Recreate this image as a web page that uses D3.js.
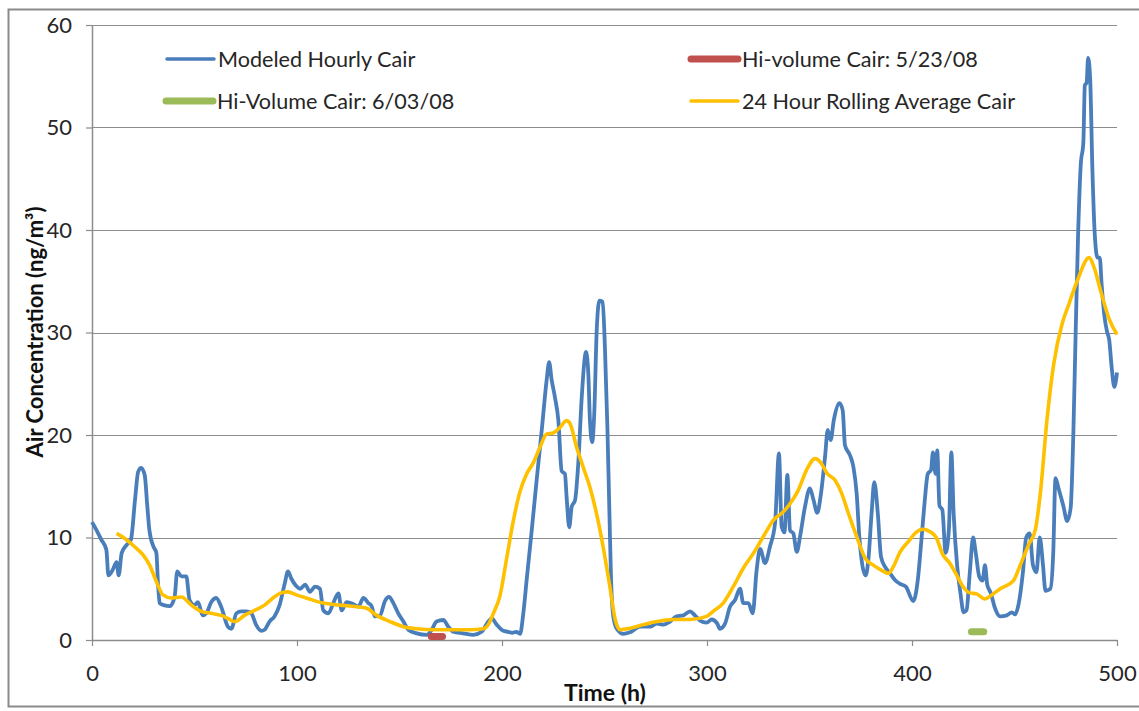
<!DOCTYPE html>
<html>
<head>
<meta charset="utf-8">
<script src="https://cdn.jsdelivr.net/npm/d3@7"></script>
<style>
  html, body { margin: 0; padding: 0; background: #ffffff; }
  svg { display: block; }
  text { font-family: Lato, "Open Sans", "DejaVu Sans", sans-serif; }
</style>
</head>
<body>
<svg id="chart" width="1139" height="711"></svg>
<script>
// ---- data (hour, ng/m3) ----
const xTicks = [0, 100, 200, 300, 400, 500];
const yTicks = [0, 10, 20, 30, 40, 50, 60];
const seriesNames = ["Modeled Hourly Cair", "Hi-volume Cair: 5/23/08", "Hi-Volume Cair: 6/03/08", "24 Hour Rolling Average Cair"];
const xTitle = "Time (h)";
const yTitle = "Air Concentration (ng/m³)";

const modeledHourly = [
  [0,11.5],[2,10.8],[4.5,9.8],[7,8.8],[8,6.3],[10,6.8],[12,7.6],[13,6.3],[14.5,8.5],[17,9.3],[19,9.8],
  [21,13.7],[22.5,16.4],[24,16.8],[25.7,16.1],[27,13],[28,10.7],[30,9.1],[31.4,8.5],[32.2,5.5],[33,3.6],
  [35,3.4],[38,3.3],[40.3,4.2],[41.6,6.7],[43.6,6.2],[46,6.2],[47.6,3.9],[50,3.4],[51.7,3.7],[54,2.4],
  [55.8,2.6],[58.2,3.7],[60.6,4.1],[63,3.25],[66.3,1.3],[68,1.1],[70.4,2.6],[72.8,2.8],[75.2,2.8],
  [77.7,2.6],[80,1.5],[82.6,0.9],[84.2,1.0],[86.6,1.8],[89,2.3],[91.5,3.4],[94,5.5],[95.6,6.7],[97.2,6.0],
  [99.5,5.3],[101.5,5.0],[104,5.4],[106.3,4.7],[108.8,5.2],[111.2,5.0],[112.8,2.9],[115.3,2.6],[117.7,3.6],
  [120.2,4.55],[121.8,2.9],[124.2,3.7],[127.5,3.5],[129.9,3.25],[132.4,4.1],[134.8,3.6],[136.4,3.3],
  [138,2.3],[140.5,2.4],[142.9,3.8],[144.9,4.2],[147,3.6],[149.4,2.6],[151.9,1.8],[154.3,1.0],[158.4,0.65],
  [163.3,0.5],[165.7,1.0],[168.1,1.8],[171.4,1.95],[173.8,1.3],[176.3,0.8],[181,0.65],[186,0.5],[190.1,0.8],
  [193.3,1.8],[195,2.1],[197.4,1.5],[200.6,0.9],[203,0.8],[205,0.7],[207,0.8],[208.8,0.6],[210.4,2.6],
  [212,5.8],[214.5,10.7],[216.9,15.6],[219.4,20.5],[221.8,25.4],[223,27.1],[224.2,25.4],[225.8,23.7],
  [227.5,21.4],[229.1,16.5],[230.7,16.2],[231.5,14],[232.8,11.0],[234,13],[235.6,13.6],[237.2,17.2],
  [238.9,23.7],[241,28.1],[242.1,26],[242.9,21.4],[244,19.3],[245,22.1],[246.2,30.2],[247.5,33.1],
  [249.1,33],[250.2,28.6],[251.4,20.8],[252.4,12.4],[253.2,5.9],[254.3,2.3],[256,1.1],[259.2,0.6],
  [262.4,0.75],[267.3,1.3],[272.2,1.3],[275.5,1.6],[278.7,1.5],[282,1.8],[285.2,2.3],[288.5,2.4],
  [291.7,2.8],[294.1,2.4],[296.6,1.9],[299.8,1.7],[302.3,2.0],[305,1.6],[306.3,1.1],[308.8,1.6],
  [311.2,3.25],[313.7,3.9],[316.1,5.0],[317.7,3.6],[320.2,3.6],[322.3,2.6],[324.2,6.8],[325.9,8.9],
  [328.3,7.5],[330.7,9.1],[333.2,11.4],[335.1,18.2],[336.4,11.1],[337.8,10.5],[339.2,16.1],[340.5,10.7],
  [342.1,10.4],[343.8,8.6],[345.4,10.1],[347.8,13],[350.2,14.8],[351.9,13.7],[353.8,12.4],[355.4,14],
  [357.6,17.9],[358.9,20.5],[360.3,19.5],[361.9,21.5],[364.6,23.1],[366.2,22.4],[367.3,19],[369.8,18],
  [371.4,16.9],[373,14.3],[374.3,10.1],[375.9,7.15],[377.4,6.3],[378.7,7.8],[380.3,12.4],[381.6,15.4],
  [383.3,12.4],[384.9,8.1],[386.8,7.15],[389.3,6.5],[391.7,5.85],[394,5.5],[397,5.2],[400.6,3.8],
  [402.8,5.8],[404.4,9.3],[406,13.1],[407.7,16.2],[409.3,16.6],[410.2,18.3],[411.5,16.2],[412.3,18.5],
  [413.4,13.1],[414.8,12.7],[416.4,8.5],[418,10.8],[419.2,18.3],[420.3,12.4],[422,7.3],[423.6,4.6],
  [425.2,2.7],[426.6,2.9],[428.2,6.6],[429.8,10],[431.1,8.5],[432.8,6.2],[434.4,5.8],[435.6,7.3],
  [436.7,5.4],[438.4,4.6],[440.5,3.1],[443,2.3],[446.2,2.4],[448.7,2.7],[450.3,2.5],[452,3.5],[454.1,6.6],
  [455.7,10],[457.4,10.4],[459,7.3],[460.7,6.6],[462.3,10],[463.9,7.3],[465.1,4.8],[467.5,5.0],[468.9,8.5],
  [470,15.8],[471.6,14.7],[473.8,13.1],[475.7,11.6],[477.4,12.9],[478.7,20.1],[479.8,29.7],[481,39.4],
  [482.3,46.3],[483.6,48.6],[484.3,54.1],[485.2,54.4],[485.9,56.8],[486.9,54.8],[488,45.9],[489.2,39.4],
  [490.5,37.3],[491.6,37.3],[492.5,34.7],[493.8,31.7],[495.1,30.1],[496.2,29.3],[497.4,26.6],[498.7,24.7],
  [500,26.1]
];

const hiVol0523 = [[165.5,0.35],[171,0.35]];
const hiVol0603 = [[429,0.8],[435,0.8]];

const rollingAvg = [
  [12,10.4],[16,9.9],[20.8,9.1],[24.9,8.3],[28.1,7.3],[31.4,5.7],[34.6,4.4],[38.7,4.1],[43.6,4.2],
  [48.5,3.4],[53.3,2.8],[58.2,2.6],[63,2.4],[66.3,2.1],[69.6,1.8],[74.4,2.4],[79.4,2.9],[84.2,3.4],
  [88.3,4.1],[92.3,4.6],[95.6,4.7],[99.7,4.4],[104.5,4.1],[112.8,3.6],[121,3.4],[129.1,3.25],[134,3.1],
  [138.9,2.4],[145.4,1.8],[151.9,1.3],[158.4,1.1],[166.5,1.0],[174.6,1.0],[184.4,1.0],[190.9,1.1],
  [193.3,1.5],[195.8,2.6],[199,4.3],[202.3,8.0],[205.5,11.6],[208.8,14.5],[212,16.2],[215.3,17.3],
  [218.5,18.8],[221.8,20.1],[225,20.2],[228.3,20.75],[231.5,21.4],[233.2,21.1],[236.4,18.8],[239.7,16.8],
  [242.9,14.9],[246.2,12.25],[249.4,9.0],[252.7,5.1],[255.1,2.1],[257.6,1.0],[262.4,1.15],[268.9,1.5],
  [275.5,1.8],[283.6,2.0],[291.7,2.0],[299.8,2.3],[303,2.8],[307.9,3.6],[312.8,5.2],[317.7,7.0],
  [322.6,8.45],[327.5,10.1],[332.4,11.7],[337.2,12.5],[340.5,13.3],[344.5,14.6],[348.6,16.6],[352.7,17.7],
  [355.9,17.2],[358.4,16.3],[362.4,15.6],[365.7,14.3],[368.9,12.4],[373,10.1],[377.1,8.0],[381.1,7.3],
  [385.2,6.8],[388.5,6.5],[390.9,7.15],[394.2,8.6],[398.2,9.6],[402,10.5],[405.2,10.8],[408.5,10.6],
  [411.8,10.0],[415.1,8.3],[418.4,7.5],[421.6,6.4],[424.9,5.2],[428.2,4.6],[431.5,4.5],[435.6,4.0],
  [438.9,4.4],[443,5.0],[449.5,5.8],[452.8,7.3],[456.9,9.3],[460.2,10.8],[462.6,14.3],[465.9,21.6],
  [469.2,27],[473.3,30.9],[476.6,32.8],[480.7,35.1],[486.4,37.3],[488.9,36.3],[492.1,34],[496.2,31.3],
  [500,29.8]
];

const colors = ["#4a7ebb", "#c0504d", "#9bbb59", "#ffc000"];

// ---- drawing ----
const svg = d3.select("#chart");
const x = d3.scaleLinear().domain([0, 500]).range([92, 1117]);
const y = d3.scaleLinear().domain([0, 60]).range([640, 25]);

// outer chart border
svg.append("rect")
  .attr("x", 8.5).attr("y", 9.5).attr("width", 1200).attr("height", 697)
  .attr("fill", "none").attr("stroke", "#8a8a8a").attr("stroke-width", 2);

// gridlines
svg.append("g").selectAll("line").data(yTicks.filter(d => d > 0)).join("line")
  .attr("x1", x(0)).attr("x2", x(500))
  .attr("y1", d => Math.round(y(d)) + 0.5).attr("y2", d => Math.round(y(d)) + 0.5)
  .attr("stroke", "#8c8c8c").attr("stroke-width", 1);

// axes
const yAxis = svg.append("g").attr("transform", `translate(${x(0)},0)`)
  .call(d3.axisLeft(y).tickValues(yTicks).tickSizeInner(6).tickSizeOuter(0).tickPadding(14).tickFormat(d3.format("d")));
const xAxis = svg.append("g").attr("transform", `translate(0,${y(0)})`)
  .call(d3.axisBottom(x).tickValues(xTicks).tickSizeInner(6).tickSizeOuter(0).tickPadding(19).tickFormat(d3.format("d")));
[yAxis, xAxis].forEach(a => {
  a.select(".domain").attr("stroke", "#8c8c8c").attr("stroke-width", 1.5);
  a.selectAll(".tick line").attr("stroke", "#8c8c8c").attr("stroke-width", 1.2);
  a.selectAll(".tick text").attr("fill", "#262626").style("font-size", "22px").style("font-family", "Lato, sans-serif");
});

// axis titles
svg.append("text")
  .attr("transform", `translate(43,332) rotate(-90)`)
  .attr("text-anchor", "middle")
  .attr("fill", "#111").style("font-size", "22px").style("font-weight", "bold")
  .text(yTitle);
svg.append("text")
  .attr("x", 605).attr("y", 701)
  .attr("text-anchor", "middle")
  .attr("fill", "#111").style("font-size", "23px").style("font-weight", "bold")
  .text(xTitle);

// lines
const line = d3.line().x(d => x(d[0])).y(d => y(d[1])).curve(d3.curveMonotoneX);
const plot = svg.append("g");
plot.append("path").datum(modeledHourly).attr("d", line)
  .attr("fill", "none").attr("stroke", colors[0]).attr("stroke-width", 3.8).attr("stroke-linejoin", "round");
plot.append("path").datum(rollingAvg).attr("d", line)
  .attr("fill", "none").attr("stroke", colors[3]).attr("stroke-width", 3.6).attr("stroke-linejoin", "round");
plot.append("path").datum(hiVol0523).attr("d", d3.line().x(d => x(d[0])).y(d => y(d[1])))
  .attr("fill", "none").attr("stroke", colors[1]).attr("stroke-width", 7).attr("stroke-linecap", "round");
plot.append("path").datum(hiVol0603).attr("d", d3.line().x(d => x(d[0])).y(d => y(d[1])))
  .attr("fill", "none").attr("stroke", colors[2]).attr("stroke-width", 7).attr("stroke-linecap", "round");

// legend
const legendItems = [
  {name: seriesNames[0], color: colors[0], w: 3.5, lx: 167, ly: 59},
  {name: seriesNames[1], color: colors[1], w: 7, lx: 691, ly: 59},
  {name: seriesNames[2], color: colors[2], w: 7, lx: 166, ly: 101},
  {name: seriesNames[3], color: colors[3], w: 3.5, lx: 691, ly: 101}
];
const lg = svg.append("g").selectAll("g").data(legendItems).join("g")
  .attr("transform", d => `translate(${d.lx},${d.ly})`);
lg.append("line").attr("x1", 0).attr("x2", 47).attr("y1", 0).attr("y2", 0)
  .attr("stroke", d => d.color).attr("stroke-width", d => d.w).attr("stroke-linecap", "round");
lg.append("text").attr("x", 51).attr("y", 0).attr("dy", "0.35em")
  .attr("fill", "#262626").style("font-size", "21.6px")
  .text(d => d.name);
</script>
</body>
</html>
